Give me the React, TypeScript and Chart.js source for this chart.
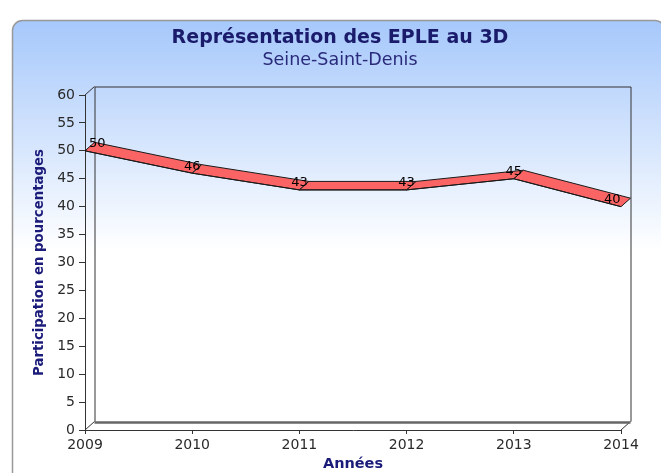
import React, { useEffect, useRef } from "react";
import { Chart, registerables } from "chart.js";

Chart.register(...registerables);

const years = [2009, 2010, 2011, 2012, 2013, 2014];
const participation = [50, 46, 43, 43, 45, 40];
const yMin = 0;
const yMax = 60;
const yStep = 5;
const titleText = "Représentation des EPLE au 3D";
const subtitleText = "Seine-Saint-Denis";
const xTitleText = "Années";
const yTitleText = "Participation en pourcentages";

const DX = 9.5;
const DY = -8.5;
const FONT = "'DejaVu Sans', Verdana, sans-serif";

const bgPlugin = {
  id: "bgBox",
  beforeDraw(chart: any) {
    const ctx = chart.ctx;
    ctx.save();
    const x0 = 12.5, y0 = 20.5, x1 = 665, y1 = 482, r = 10;
    const g = ctx.createLinearGradient(0, y0, 0, y1);
    g.addColorStop(0, "#a6c8fb");
    g.addColorStop(0.5, "#ffffff");
    g.addColorStop(1, "#ffffff");
    ctx.beginPath();
    ctx.roundRect(x0, y0, x1 - x0, y1 - y0, r);
    ctx.fillStyle = g;
    ctx.fill();
    ctx.strokeStyle = "#999999";
    ctx.lineWidth = 1.5;
    ctx.stroke();
    // titles
    ctx.textAlign = "center";
    ctx.textBaseline = "middle";
    ctx.fillStyle = "#1b1b6b";
    ctx.font = `bold 19px ${FONT}`;
    ctx.fillText(titleText, 340, 37.8);
    ctx.fillStyle = "#2a2a7a";
    ctx.font = `17.5px ${FONT}`;
    ctx.fillText(subtitleText, 340, 60.4);
    ctx.restore();
  },
};

const frame3dPlugin = {
  id: "frame3d",
  beforeDatasetsDraw(chart: any) {
    const ctx = chart.ctx;
    const { left, right, top, bottom } = chart.chartArea;
    ctx.save();
    ctx.lineWidth = 1;
    ctx.strokeStyle = "#333333";
    // back panel
    ctx.beginPath();
    ctx.moveTo(left + DX + 0.5, bottom + DY);
    ctx.lineTo(left + DX + 0.5, top + DY + 0.5);
    ctx.lineTo(right + DX + 0.5, top + DY + 0.5);
    ctx.lineTo(right + DX + 0.5, bottom + DY);
    ctx.stroke();
    // diagonals
    ctx.beginPath();
    ctx.moveTo(left, top);
    ctx.lineTo(left + DX, top + DY);
    ctx.moveTo(left, bottom);
    ctx.lineTo(left + DX, bottom + DY);
    ctx.moveTo(right, bottom);
    ctx.lineTo(right + DX, bottom + DY);
    ctx.stroke();
    // floor back line
    ctx.strokeStyle = "#666666";
    ctx.lineWidth = 2.5;
    ctx.beginPath();
    ctx.moveTo(left + DX, bottom + DY + 1);
    ctx.lineTo(right + DX, bottom + DY + 1);
    ctx.stroke();
    // ribbon
    const xs = chart.scales.x;
    const ys = chart.scales.y;
    const pts = years.map((yr, i) => [xs.getPixelForValue(yr), ys.getPixelForValue(participation[i])]);
    ctx.lineWidth = 1;
    ctx.strokeStyle = "#1a1a1a";
    ctx.fillStyle = "#fa6464";
    ctx.lineJoin = "round";
    for (let i = 0; i < pts.length - 1; i++) {
      const [ax, ay] = pts[i];
      const [bx, by] = pts[i + 1];
      ctx.beginPath();
      ctx.moveTo(ax, ay);
      ctx.lineTo(bx, by);
      ctx.lineTo(bx + DX, by + DY);
      ctx.lineTo(ax + DX, ay + DY);
      ctx.closePath();
      ctx.fill();
      ctx.stroke();
    }
    ctx.restore();
  },
  afterDatasetsDraw(chart: any) {
    const ctx = chart.ctx;
    const { left, right } = chart.chartArea;
    const xs = chart.scales.x;
    const ys = chart.scales.y;
    ctx.save();
    ctx.font = `13px ${FONT}`;
    ctx.fillStyle = "#000000";
    ctx.textAlign = "center";
    ctx.textBaseline = "middle";
    years.forEach((yr, i) => {
      const label = String(participation[i]);
      const w = ctx.measureText(label).width;
      let cx = xs.getPixelForValue(yr);
      cx = Math.max(cx, left + 4 + w / 2);
      cx = Math.min(cx, right - 0.5 - w / 2);
      const cy = ys.getPixelForValue(participation[i]) - 7;
      ctx.fillText(label, cx, cy);
    });
    ctx.restore();
  },
};

export default function App() {
  const ref = useRef<HTMLCanvasElement | null>(null);
  useEffect(() => {
    if (!ref.current) return;
    Chart.defaults.font.family = FONT;
    const chart = new Chart(ref.current, {
      type: "line",
      data: {
        datasets: [
          {
            data: years.map((yr, i) => ({ x: yr, y: participation[i] })),
            borderColor: "#1a1a1a",
            borderWidth: 1,
            pointRadius: 0,
            fill: false,
            tension: 0,
          },
        ],
      },
      options: {
        responsive: false,
        animation: false,
        events: [],
        layout: { padding: { left: 20, right: 40, top: 95, bottom: 0 } },
        plugins: {
          legend: { display: false },
          tooltip: { enabled: false },
          title: { display: false },
          subtitle: { display: false },
        },
        scales: {
          x: {
            type: "linear",
            min: years[0],
            max: years[years.length - 1],
            afterFit: (s: any) => {
              s.height = 43;
            },
            ticks: {
              stepSize: 1,
              padding: 3,
              color: "#2a2a2a",
              font: { size: 14, family: FONT },
              callback: (v: any) => String(v),
              maxRotation: 0,
              autoSkip: false,
            },
            grid: {
              display: true,
              drawOnChartArea: false,
              drawTicks: true,
              tickLength: 4,
              color: "#333333",
            },
            border: { display: true, color: "#333333", width: 1 },
            title: {
              display: true,
              text: xTitleText,
              color: "#1b1b7a",
              font: { size: 14.5, weight: "bold", family: FONT },
              padding: { top: 0, bottom: 0 },
            },
          },
          y: {
            type: "linear",
            min: yMin,
            max: yMax,
            afterFit: (s: any) => {
              s.width = 65;
            },
            ticks: {
              stepSize: yStep,
              padding: 4,
              color: "#2a2a2a",
              font: { size: 14, family: FONT },
            },
            grid: {
              display: true,
              drawOnChartArea: false,
              drawTicks: true,
              tickLength: 6,
              color: "#333333",
            },
            border: { display: true, color: "#333333", width: 1 },
            title: {
              display: true,
              text: yTitleText,
              color: "#1b1b7a",
              font: { size: 13.3, weight: "bold", family: FONT },
              padding: { top: 12, bottom: 0 },
            },
          },
        },
      },
      plugins: [bgPlugin, frame3dPlugin],
    } as any);
    return () => chart.destroy();
  }, []);
  return (
    <div style={{ position: "absolute", left: 0, top: 0, width: 661, height: 473 }}>
      <canvas ref={ref} width={661} height={473} />
    </div>
  );
}
